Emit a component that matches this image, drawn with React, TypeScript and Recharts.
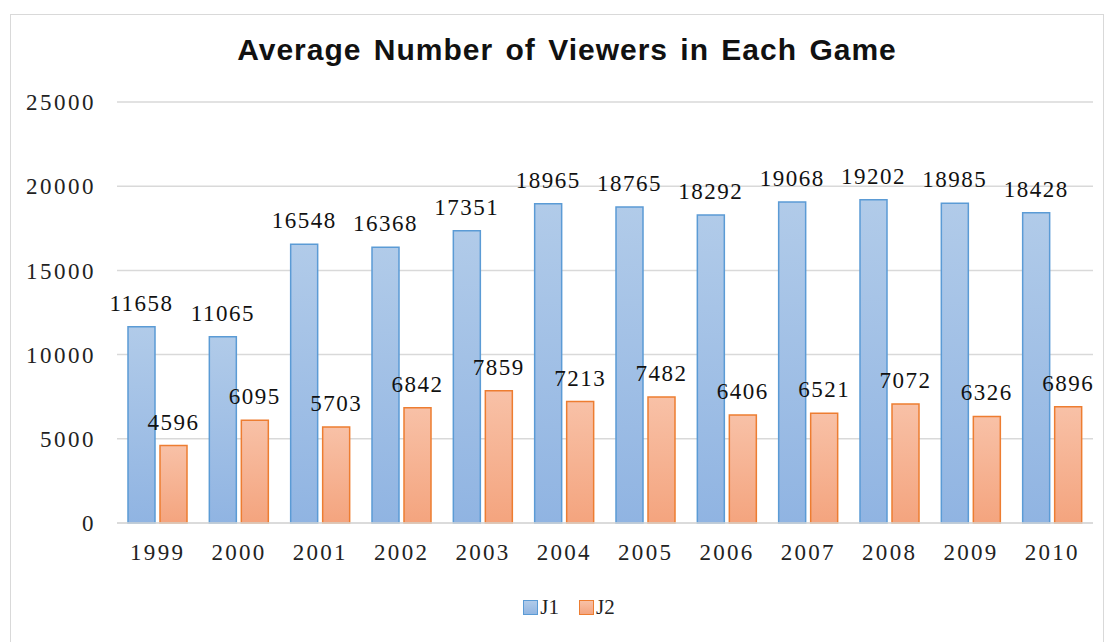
import React from "react";
import { BarChart, Bar, XAxis, YAxis, CartesianGrid, LabelList } from "recharts";

const years = ["1999", "2000", "2001", "2002", "2003", "2004", "2005", "2006", "2007", "2008", "2009", "2010"];
const j1 = [11658, 11065, 16548, 16368, 17351, 18965, 18765, 18292, 19068, 19202, 18985, 18428];
const j2 = [4596, 6095, 5703, 6842, 7859, 7213, 7482, 6406, 6521, 7072, 6326, 6896];
const yTicks = [0, 5000, 10000, 15000, 20000, 25000];

const data = years.map((y, i) => ({ year: y, J1: j1[i], J2: j2[i] }));

const serif = "'Liberation Serif', 'DejaVu Serif', serif";

const Legend = () => (
  <div
    style={{
      position: "absolute",
      top: 595,
      left: 0,
      width: 1110,
      display: "flex",
      justifyContent: "center",
      gap: 20,
      fontFamily: serif,
      fontSize: 21,
      color: "#222",
      paddingLeft: 28,
      boxSizing: "border-box",
    }}
  >
    {[
      { name: "J1", fill: "linear-gradient(#b1cbe9, #92b6e2)", stroke: "#5b9bd5" },
      { name: "J2", fill: "linear-gradient(#f8c1a7, #f4a580)", stroke: "#ed7d31" },
    ].map((s) => (
      <div key={s.name} style={{ display: "flex", alignItems: "center" }}>
        <span
          style={{
            display: "inline-block",
            width: 13,
            height: 13,
            background: s.fill,
            border: `1px solid ${s.stroke}`,
            marginRight: 2,
          }}
        />
        <span>{s.name}</span>
      </div>
    ))}
  </div>
);

export default function App() {
  return (
    <div style={{ position: "absolute", left: 0, top: 0, width: 1110, height: 642, background: "#fff", overflow: "hidden" }}>
      <div
        style={{
          position: "absolute",
          left: 10,
          top: 14,
          width: 1094,
          height: 640,
          border: "1px solid #d9d9d9",
          boxSizing: "border-box",
        }}
      />
      <div
        style={{
          position: "absolute",
          top: 33,
          left: 0,
          width: 1134,
          textAlign: "center",
          fontFamily: "'Liberation Sans', Arial, sans-serif",
          fontWeight: "bold",
          fontSize: 30,
          letterSpacing: 1,
          wordSpacing: 3,
          color: "#111",
        }}
      >
        Average Number of Viewers in Each Game
      </div>
      <div style={{ position: "absolute", left: 0, top: 0 }}>
        <BarChart
          width={1110}
          height={642}
          data={data}
          margin={{ top: 102, right: 17, bottom: 89, left: 0 }}
          barSize={27}
          barGap={5}
        >
          <defs>
            <linearGradient id="gJ1" x1="0" y1="0" x2="0" y2="1">
              <stop offset="0%" stopColor="#b1cbe9" />
              <stop offset="100%" stopColor="#90b4e2" />
            </linearGradient>
            <linearGradient id="gJ2" x1="0" y1="0" x2="0" y2="1">
              <stop offset="0%" stopColor="#f8c1a7" />
              <stop offset="100%" stopColor="#f4a47e" />
            </linearGradient>
          </defs>
          <CartesianGrid vertical={false} stroke="#d9d9d9" strokeWidth={1.5} />
          <XAxis
            dataKey="year"
            height={30}
            axisLine={{ stroke: "#d9d9d9", strokeWidth: 1.5 }}
            tickLine={false}
            tickMargin={15}
            tick={{ fill: "#222", fontFamily: serif, fontSize: 23, letterSpacing: 2.3 }}
          />
          <YAxis
            width={117}
            domain={[0, 25000]}
            ticks={yTicks}
            axisLine={false}
            tickLine={false}
            tickMargin={15}
            tick={{ fill: "#222", fontFamily: serif, fontSize: 23, letterSpacing: 2.5 }}
          />
          <Bar dataKey="J1" fill="url(#gJ1)" stroke="#5b9bd5" strokeWidth={1.5} isAnimationActive={false}>
            <LabelList
              dataKey="J1"
              position="top"
              offset={16}
              style={{ fill: "#111", fontFamily: serif, fontSize: 23, letterSpacing: 1.5 }}
            />
          </Bar>
          <Bar dataKey="J2" fill="url(#gJ2)" stroke="#ed7d31" strokeWidth={1.5} isAnimationActive={false}>
            <LabelList
              dataKey="J2"
              position="top"
              offset={16}
              style={{ fill: "#111", fontFamily: serif, fontSize: 23, letterSpacing: 1.5 }}
            />
          </Bar>
        </BarChart>
      </div>
      <Legend />
    </div>
  );
}
